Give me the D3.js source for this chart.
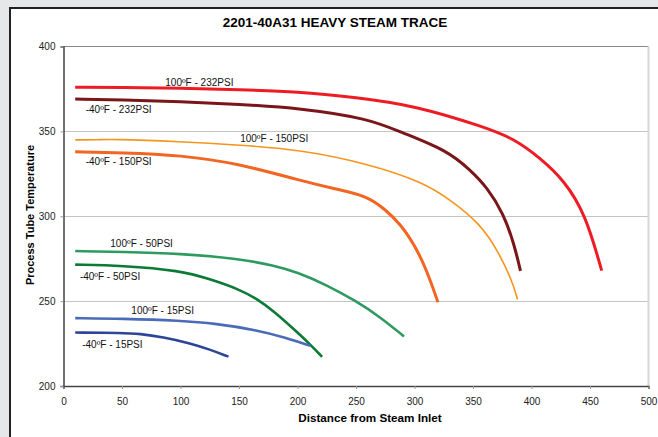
<!DOCTYPE html>
<html>
<head>
<meta charset="utf-8">
<script src="https://cdn.jsdelivr.net/npm/d3@7"></script>
<style>
  body { margin: 0; background: #e6e7e9; }
  svg { display: block; font-family: "Liberation Sans", Arial, sans-serif; }
</style>
</head>
<body>
<svg width="658" height="437"></svg>
<script>
// distances (x) and temperatures (y) for each curve
const dist100F232 = [10, 50, 100, 150, 200, 250, 300, 360, 385, 408, 428, 446, 460];
const temp100F232 = [376, 376, 375.5, 374.5, 373.5, 370, 365.3, 352.5, 345.7, 334, 321, 301.5, 268];

const distM40F232 = [10, 50, 100, 150, 202, 261, 288, 328, 348, 362, 376, 385, 390.6];
const tempM40F232 = [369, 368.5, 367.5, 366, 363.7, 357.5, 349.6, 338.8, 327, 317, 301.7, 284, 267.8];

const dist100F150 = [10, 30, 40, 100, 150, 203, 260, 308, 331, 356, 371, 383.5, 388];
const temp100F150 = [345, 345, 345.5, 344, 342, 339.2, 331, 320, 309.5, 295.7, 280, 262, 251];

const distM40F150 = [10, 50, 100, 150, 202.6, 231, 259.5, 274, 288, 303.7, 313.7, 320];
const tempM40F150 = [338, 337.5, 336, 331, 321, 316.3, 312, 304.5, 295.7, 279, 262, 249.4];

const dist100F50 = [10, 50, 100, 150, 180, 200, 225, 250, 270, 291];
const temp100F50 = [279.5, 279, 278, 275, 271, 267, 259.5, 250, 241, 229.2];

const distM40F50 = [10, 50, 100, 125, 150, 165, 180, 200, 210, 221];
const tempM40F50 = [271.5, 271, 268, 263, 257, 251.5, 244, 231.5, 225, 217.2];

const dist100F15 = [10, 50, 100, 130, 165, 190, 211];
const temp100F15 = [240, 239.7, 238.5, 236.8, 233, 228.5, 223.7];

const distM40F15 = [10, 50, 65, 85, 108, 125, 141];
const tempM40F15 = [231.5, 231.3, 230.8, 228.8, 225.2, 221.5, 217.3];

const seriesNames = ['100ºF - 232PSI', '-40ºF - 232PSI', '100ºF - 150PSI', '-40ºF - 150PSI',
  '100ºF - 50PSI', '-40ºF - 50PSI', '100ºF - 15PSI', '-40ºF - 15PSI'];
const seriesX = [dist100F232, distM40F232, dist100F150, distM40F150, dist100F50, distM40F50, dist100F15, distM40F15];
const seriesY = [temp100F232, tempM40F232, temp100F150, tempM40F150, temp100F50, tempM40F50, temp100F15, tempM40F15];

// where each curve's label sits, in data units (distance, temperature)
const labelDist = [87, 19, 151, 19, 40, 14, 58, 16];
const labelTemp = [377, 361, 344, 330, 282, 262.4, 242.4, 222.4];

const xTicks = [0, 50, 100, 150, 200, 250, 300, 350, 400, 450, 500];
const yTicks = [200, 250, 300, 350, 400];

const colors = ['#ed1c24', '#7a1619', '#f7941d', '#f26522', '#2f9a60', '#0b7a35', '#4a6cb8', '#2e4597'];
const widths = [3, 3, 1.6, 3, 2.6, 2.6, 2.6, 2.6];

const svg = d3.select('svg');

// white panel with dark left/top edge
svg.append('rect').attr('x', 9).attr('y', 7).attr('width', 649).attr('height', 430).attr('fill', '#fff');
svg.append('line').attr('x1', 10).attr('x2', 10).attr('y1', 7).attr('y2', 437)
  .attr('stroke', '#222').attr('stroke-width', 2);
svg.append('line').attr('x1', 9).attr('x2', 658).attr('y1', 8).attr('y2', 8)
  .attr('stroke', '#222').attr('stroke-width', 2);

const x = d3.scaleLinear().domain([0, 500]).range([63.5, 648.5]);
const y = d3.scaleLinear().domain([200, 400]).range([386, 46.5]);

// grid
svg.append('g')
  .selectAll('line')
  .data(yTicks.filter(t => t > 200 && t < 400))
  .enter().append('line')
    .attr('x1', x(0)).attr('x2', x(500))
    .attr('y1', d => Math.round(y(d)) + 0.5).attr('y2', d => Math.round(y(d)) + 0.5)
    .attr('stroke', '#c4c4c4');

// plot frame: top and right
svg.append('line').attr('x1', x(0)).attr('x2', x(500)).attr('y1', y(400)).attr('y2', y(400))
  .attr('stroke', '#8a8a8a');
svg.append('line').attr('x1', x(500)).attr('x2', x(500)).attr('y1', y(400)).attr('y2', y(200))
  .attr('stroke', '#d6d6d6').attr('stroke-width', 2);

const xAxis = svg.append('g')
  .attr('transform', `translate(0,${y(200)})`)
  .call(d3.axisBottom(x).tickValues(xTicks).tickSize(3).tickPadding(9));
const yAxis = svg.append('g')
  .attr('transform', `translate(${x(0)},0)`)
  .call(d3.axisLeft(y).tickValues(yTicks).tickSize(3).tickPadding(5));

[xAxis, yAxis].forEach(a => {
  a.select('.domain').attr('stroke', '#444').attr('stroke-width', 1.5);
  a.selectAll('.tick line').attr('stroke', '#999');
  a.selectAll('.tick text').attr('fill', '#222').style('font-size', '10px')
    .style('font-family', '"Liberation Sans", Arial, sans-serif');
});

const line = d3.line()
  .x(d => x(d[0]))
  .y(d => y(d[1]))
  .curve(d3.curveBasis);

svg.append('g')
  .selectAll('path')
  .data(seriesNames)
  .enter().append('path')
    .attr('d', (d, i) => line(seriesX[i].map((v, j) => [v, seriesY[i][j]])))
    .attr('fill', 'none')
    .attr('stroke', (d, i) => colors[i])
    .attr('stroke-width', (d, i) => widths[i])
    .attr('stroke-linejoin', 'round');

svg.append('g')
  .selectAll('text')
  .data(seriesNames)
  .enter().append('text')
    .attr('x', (d, i) => x(labelDist[i]))
    .attr('y', (d, i) => y(labelTemp[i]))
    .attr('font-size', 10)
    .attr('fill', '#111')
    .text(d => d);

svg.append('text')
  .attr('x', 335).attr('y', 27)
  .attr('text-anchor', 'middle')
  .attr('font-size', 13.5).attr('font-weight', 'bold')
  .text('2201-40A31 HEAVY STEAM TRACE');

svg.append('text')
  .attr('x', 370).attr('y', 422)
  .attr('text-anchor', 'middle')
  .attr('font-size', 11.7).attr('font-weight', 'bold')
  .text('Distance from Steam Inlet');

svg.append('text')
  .attr('transform', `translate(34,215) rotate(-90)`)
  .attr('text-anchor', 'middle')
  .attr('font-size', 11).attr('font-weight', 'bold')
  .text('Process Tube Temperature');
</script>
</body>
</html>
